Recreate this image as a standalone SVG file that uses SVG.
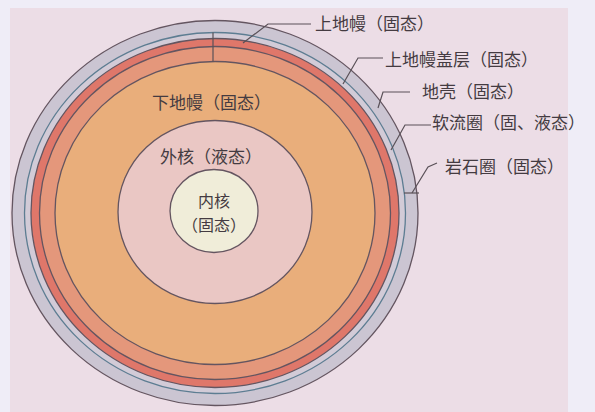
<svg xmlns="http://www.w3.org/2000/svg" width="595" height="412" viewBox="0 0 595 412">
  <style>
    .layer { stroke: #645560; stroke-width: 1.3; }
    .lbl { font-family: "Noto Sans CJK SC", "Noto Sans", sans-serif; font-size: 17px; fill: #443b41; }
    .core { font-size: 16px; }
    .lead { fill: none; stroke: #5a5158; stroke-width: 1.2; }
  </style>

  <!-- page and panel -->
  <rect x="0" y="0" width="595" height="412" fill="#efedf7"/>
  <rect x="10" y="8" width="558" height="404" fill="#ecdde6"/>

  <!-- concentric layers of the Earth -->
  <g id="lithosphere">
    <ellipse class="layer" cx="215" cy="213" rx="203" ry="192.5" fill="#cbc5d2"/>
  </g>
  <g id="asthenosphere">
    <ellipse cx="215" cy="213" rx="190.5" ry="180.5" fill="#d2cbd7" stroke="#5d7d92" stroke-width="1.3"/>
  </g>
  <g id="upper-mantle">
    <ellipse class="layer" cx="215" cy="213" rx="184" ry="174.5" fill="#df776a"/>
    <ellipse class="layer" cx="215" cy="213" rx="175.5" ry="166.5" fill="#e4977b"/>
  </g>
  <g id="lower-mantle">
    <ellipse class="layer" cx="215" cy="213" rx="160" ry="151.5" fill="#e9ae7b"/>
  </g>
  <g id="outer-core">
    <ellipse class="layer" cx="215" cy="212" rx="97" ry="91.5" fill="#eac7c4"/>
  </g>
  <g id="inner-core">
    <ellipse class="layer" cx="214" cy="211" rx="44" ry="41.5" fill="#f0edd9"/>
  </g>

  <!-- leader lines and brackets -->
  <g id="connectors">
    <line class="lead" x1="213" y1="32.5" x2="213" y2="61.5"/>
    <polyline class="lead" points="311,24 268,24 243,43"/>
    <polyline class="lead" points="383,58 358,58 343,84"/>
    <polyline class="lead" points="410,92 383,92 378,108"/>
    <polyline class="lead" points="431,125 405,125 391,150"/>
    <polyline class="lead" points="437,163 428,167 412,193"/>
    <line class="lead" x1="404" y1="193" x2="419" y2="193"/>
  </g>

  <!-- labels -->
  <g id="label-upper-mantle"><text class="lbl" x="315" y="30">上地幔（固态）</text></g>
  <g id="label-mantle-cap"><text class="lbl" x="385" y="66">上地幔盖层（固态）</text></g>
  <g id="label-crust"><text class="lbl" x="422" y="98">地壳（固态）</text></g>
  <g id="label-asthenosphere"><text class="lbl" x="432" y="129">软流圈（固、液态）</text></g>
  <g id="label-lithosphere"><text class="lbl" x="445" y="173">岩石圈（固态）</text></g>
  <g id="label-lower-mantle"><text class="lbl" x="152" y="109">下地幔（固态）</text></g>
  <g id="label-outer-core"><text class="lbl" x="160" y="163">外核（液态）</text></g>
  <g id="label-inner-core">
    <text class="lbl core" x="214" y="207" text-anchor="middle">内核</text>
    <text class="lbl core" x="214" y="231" text-anchor="middle">（固态）</text>
  </g>
</svg>
